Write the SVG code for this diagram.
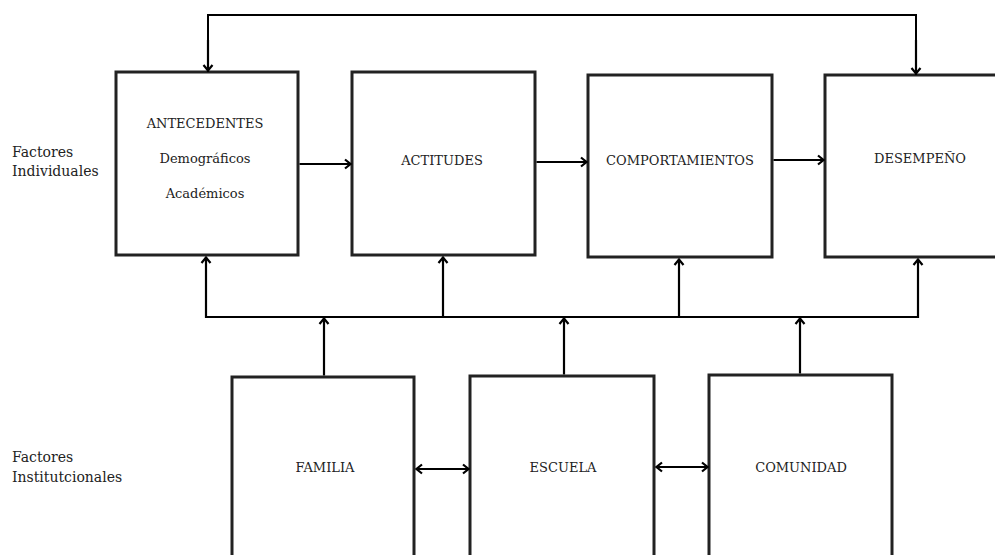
<svg xmlns="http://www.w3.org/2000/svg" width="995" height="555" viewBox="0 0 995 555">
<defs>
<style>
.box{fill:#fff;stroke:#222;stroke-width:3}
.lbl{font-family:"DejaVu Serif","Liberation Serif",serif;font-size:13px;fill:#222;text-anchor:middle}
.side{font-family:"DejaVu Serif","Liberation Serif",serif;font-size:14px;fill:#222}
.ln{fill:none;stroke:#000;stroke-width:2.2}
.arr{marker-end:url(#ah)}
.dbl{marker-start:url(#ahs);marker-end:url(#ah)}
</style>
<marker id="ah" viewBox="0 0 10 12" refX="9" refY="6" markerWidth="10" markerHeight="12" markerUnits="userSpaceOnUse" orient="auto">
<path d="M3,1.5 L8.5,6 L3,10.5" fill="none" stroke="#000" stroke-width="2.2"/>
</marker>
<marker id="ahs" viewBox="0 0 10 12" refX="9" refY="6" markerWidth="10" markerHeight="12" markerUnits="userSpaceOnUse" orient="auto-start-reverse">
<path d="M3,1.5 L8.5,6 L3,10.5" fill="none" stroke="#000" stroke-width="2.2"/>
</marker>
</defs>
<rect width="995" height="555" fill="#fff"/>
<g id="labels">
<text class="side" x="12" y="157">Factores</text>
<text class="side" x="12" y="176">Individuales</text>
<text class="side" x="12" y="462">Factores</text>
<text class="side" x="12" y="482">Institutcionales</text>
</g>
<g id="antecedentes">
<rect class="box" x="116" y="72" width="182" height="183"/>
<text class="lbl" x="205" y="128">ANTECEDENTES</text>
<text class="lbl" x="205" y="163">Demográficos</text>
<text class="lbl" x="205" y="198">Académicos</text>
</g>
<g id="actitudes">
<rect class="box" x="352" y="72" width="183" height="183"/>
<text class="lbl" x="442" y="165">ACTITUDES</text>
</g>
<g id="comportamientos">
<rect class="box" x="588" y="75" width="184" height="182"/>
<text class="lbl" x="680" y="165">COMPORTAMIENTOS</text>
</g>
<g id="desempeno">
<rect class="box" x="825" y="75" width="190" height="182"/>
<text class="lbl" x="920" y="163">DESEMPEÑO</text>
</g>
<g id="familia">
<rect class="box" x="232" y="377" width="182" height="200"/>
<text class="lbl" x="325" y="472">FAMILIA</text>
</g>
<g id="escuela">
<rect class="box" x="470" y="376" width="184" height="200"/>
<text class="lbl" x="563" y="472">ESCUELA</text>
</g>
<g id="comunidad">
<rect class="box" x="709" y="375" width="183" height="200"/>
<text class="lbl" x="801" y="472">COMUNIDAD</text>
</g>
<g id="connectors">
<polyline class="ln" points="208,72 208,15 916,15 916,75" style="stroke-width:2"/>
<line class="ln arr" x1="208" y1="40" x2="208" y2="71"/>
<line class="ln arr" x1="916" y1="40" x2="916" y2="74"/>
<line class="ln arr" x1="299.5" y1="164" x2="351" y2="164"/>
<line class="ln arr" x1="536.5" y1="162" x2="587" y2="162"/>
<line class="ln arr" x1="773.5" y1="160" x2="824" y2="160"/>
<polyline class="ln" points="206,317 918,317"/>
<line class="ln arr" x1="206" y1="318" x2="206" y2="257"/>
<line class="ln arr" x1="443" y1="318" x2="443" y2="257"/>
<line class="ln arr" x1="679" y1="318" x2="679" y2="259"/>
<line class="ln arr" x1="918" y1="318" x2="918" y2="259"/>
<line class="ln arr" x1="324" y1="375.5" x2="324" y2="318"/>
<line class="ln arr" x1="564" y1="374.5" x2="564" y2="318"/>
<line class="ln arr" x1="800" y1="373.5" x2="800" y2="318"/>
<line class="ln dbl" x1="416" y1="469" x2="469" y2="469"/>
<line class="ln dbl" x1="656" y1="467" x2="708" y2="467"/>
</g>
</svg>
